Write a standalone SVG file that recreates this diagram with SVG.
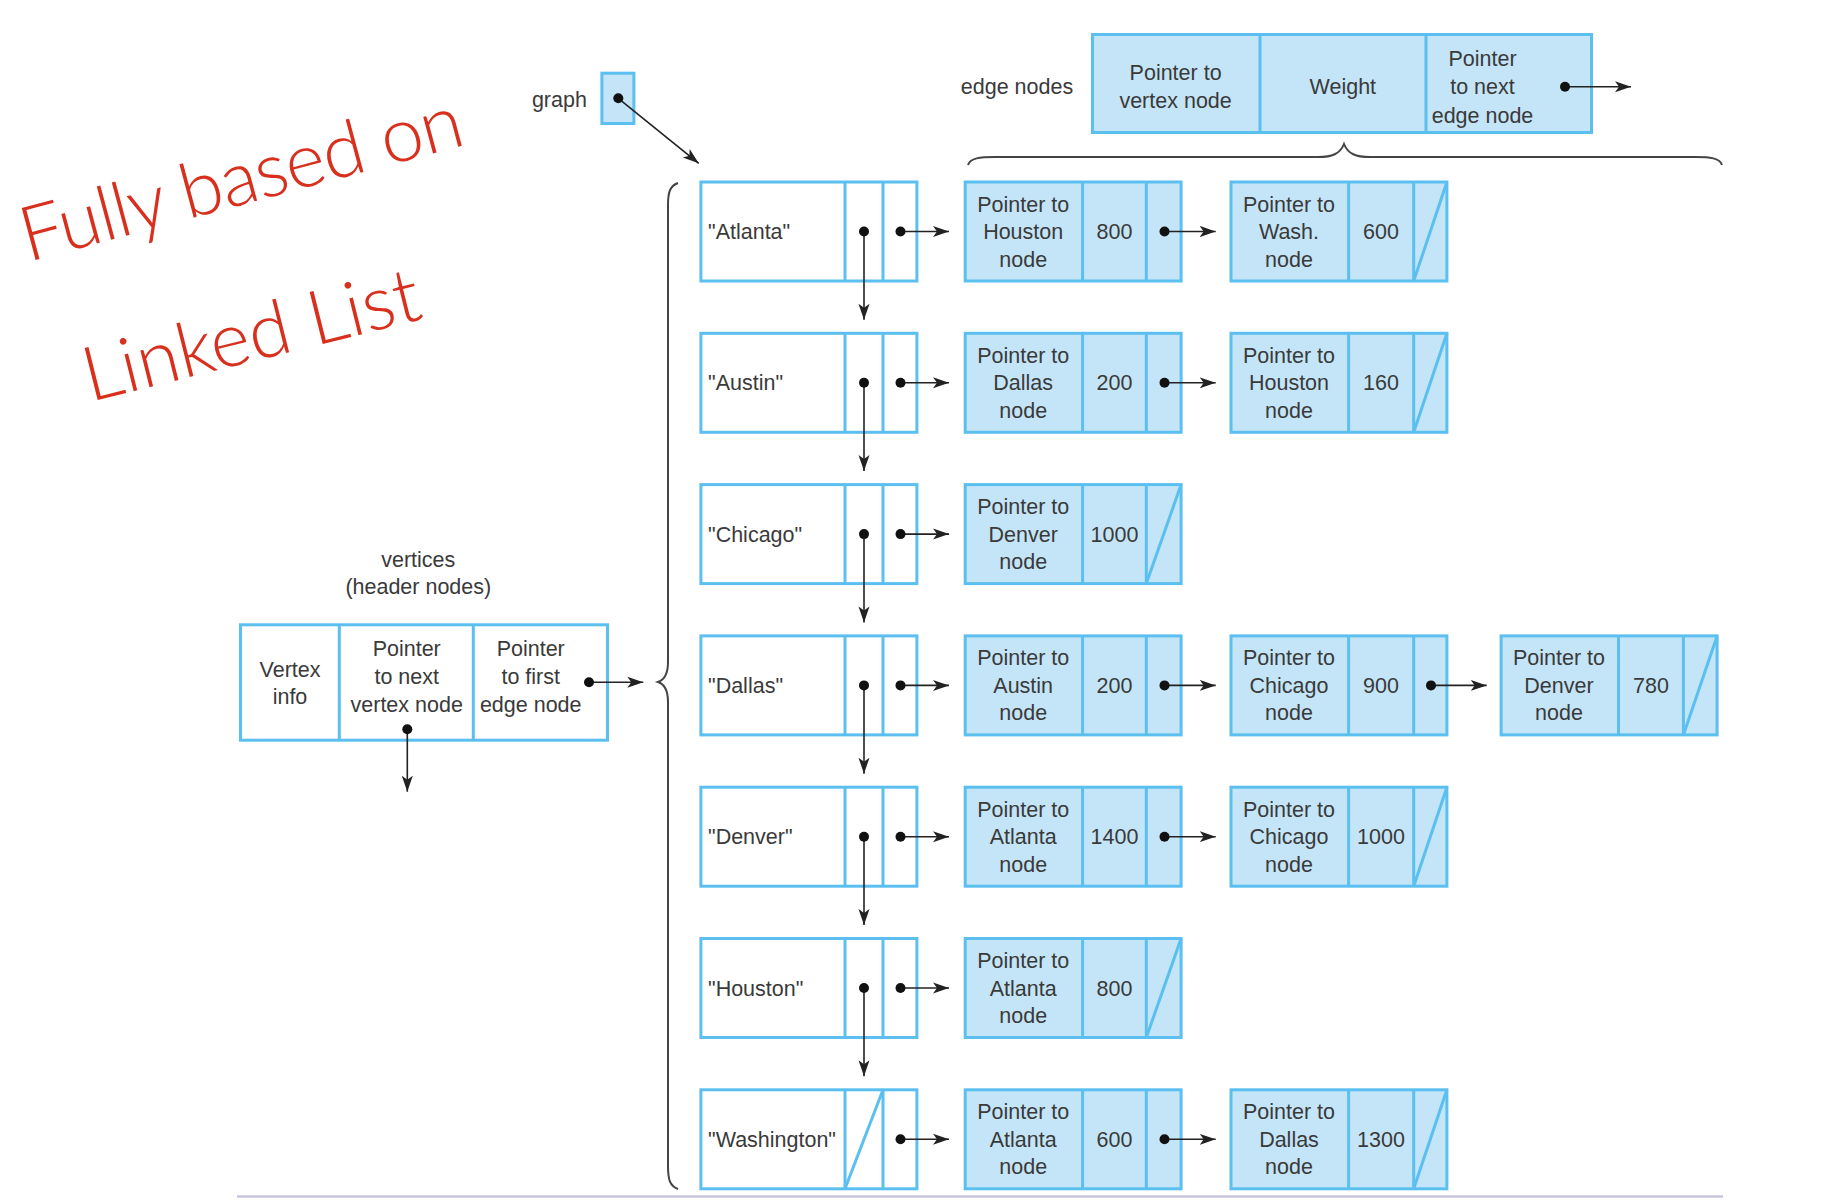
<svg xmlns="http://www.w3.org/2000/svg" width="1828" height="1200" viewBox="0 0 1828 1200">
<style>
.vb{fill:#fff;stroke:#5BBFEF;stroke-width:3}
.eb{fill:#C4E5F8;stroke:#5BBFEF;stroke-width:3}
.dv{stroke:#5BBFEF;stroke-width:3}
.t{font-family:'Liberation Sans',Arial,sans-serif;font-size:21.5px;fill:#3a3a3a}
.m{text-anchor:middle}
.ln{stroke:#222;stroke-width:1.6;fill:none}
.ar{stroke:#222;stroke-width:1.6;fill:none;marker-end:url(#ah)}
.dot{fill:#111}
.br{stroke:#444;stroke-width:2;fill:none}
.hw{font-family:Lato,Inter,'Liberation Sans',sans-serif;font-weight:300;font-size:76px;fill:#D9301E}
</style>
<defs>
<marker id="ah" markerUnits="userSpaceOnUse" markerWidth="18" markerHeight="14" refX="16" refY="7" orient="auto"><path d="M0,1.5 L16,7 L0,12.5 L4,7 z" fill="#222"/></marker>
</defs>
<rect width="1828" height="1200" fill="#fff"/>

<!-- handwriting -->
<g id="handwriting">
<text class="hw" transform="translate(28,262) rotate(-15)" textLength="455" lengthAdjust="spacing">Fully based on</text>
<text class="hw" transform="translate(90,402) rotate(-14)" textLength="345" lengthAdjust="spacing">Linked List</text>
</g>

<!-- labels -->
<g id="labels">
<text class="t m" x="559.4" y="106.5">graph</text>
<text class="t m" x="1017" y="94">edge nodes</text>
<text class="t m" x="418.3" y="567">vertices</text>
<text class="t m" x="418.3" y="594">(header nodes)</text>
</g>

<!-- graph pointer box -->
<g id="graph">
<rect class="eb" x="601.9" y="73.2" width="32" height="50.3"/>
</g>

<!-- edge node legend -->
<g id="edge-legend">
<rect class="eb" x="1092.5" y="34.5" width="499" height="98"/>
<line class="dv" x1="1260" y1="34.5" x2="1260" y2="132.5"/>
<line class="dv" x1="1426" y1="34.5" x2="1426" y2="132.5"/>
<text class="t m" x="1175.6" y="80.2">Pointer to</text>
<text class="t m" x="1175.6" y="107.5">vertex node</text>
<text class="t m" x="1342.8" y="94">Weight</text>
<text class="t m" x="1482.5" y="65.8">Pointer</text>
<text class="t m" x="1482.5" y="94">to next</text>
<text class="t m" x="1482.5" y="122.5">edge node</text>
</g>

<!-- vertex legend -->
<g id="vertex-legend">
<rect class="vb" x="240.5" y="624.8" width="367" height="115.4"/>
<line class="dv" x1="339.3" y1="624.8" x2="339.3" y2="740.2"/>
<line class="dv" x1="473.3" y1="624.8" x2="473.3" y2="740.2"/>
<text class="t m" x="290" y="676.5">Vertex</text>
<text class="t m" x="290" y="704">info</text>
<text class="t m" x="406.7" y="655.8">Pointer</text>
<text class="t m" x="406.7" y="683.5">to next</text>
<text class="t m" x="406.7" y="711.5">vertex node</text>
<text class="t m" x="530.7" y="655.8">Pointer</text>
<text class="t m" x="530.7" y="683.5">to first</text>
<text class="t m" x="530.7" y="711.5">edge node</text>
</g>

<!-- braces -->
<g id="braces">
<path class="br" d="M678 183 C670 186,668 192,668 205 L668 662 C668 675,664 680,658 682 C664 684,668 690,668 702 L668 1166 C668 1180,670 1186,678 1189"/>
<path class="br" d="M968 165 C970 158,980 157,995 157 L1318 157 C1332 157,1340 154,1344 144 C1348 154,1356 157,1370 157 L1695 157 C1710 157,1720 158,1722 165"/>
</g>

<!-- vertex nodes -->
<g id="v-atlanta" transform="translate(0,180.5)">
<rect class="vb" x="700.9" y="1.5" width="216" height="99"/>
<line class="dv" x1="845" y1="1.5" x2="845" y2="100.5"/><line class="dv" x1="883" y1="1.5" x2="883" y2="100.5"/>
<text class="t" x="708" y="58.5">"Atlanta"</text>
</g>
<g id="v-austin" transform="translate(0,331.8)">
<rect class="vb" x="700.9" y="1.5" width="216" height="99"/>
<line class="dv" x1="845" y1="1.5" x2="845" y2="100.5"/><line class="dv" x1="883" y1="1.5" x2="883" y2="100.5"/>
<text class="t" x="708" y="58.5">"Austin"</text>
</g>
<g id="v-chicago" transform="translate(0,483.1)">
<rect class="vb" x="700.9" y="1.5" width="216" height="99"/>
<line class="dv" x1="845" y1="1.5" x2="845" y2="100.5"/><line class="dv" x1="883" y1="1.5" x2="883" y2="100.5"/>
<text class="t" x="708" y="58.5">"Chicago"</text>
</g>
<g id="v-dallas" transform="translate(0,634.4)">
<rect class="vb" x="700.9" y="1.5" width="216" height="99"/>
<line class="dv" x1="845" y1="1.5" x2="845" y2="100.5"/><line class="dv" x1="883" y1="1.5" x2="883" y2="100.5"/>
<text class="t" x="708" y="58.5">"Dallas"</text>
</g>
<g id="v-denver" transform="translate(0,785.7)">
<rect class="vb" x="700.9" y="1.5" width="216" height="99"/>
<line class="dv" x1="845" y1="1.5" x2="845" y2="100.5"/><line class="dv" x1="883" y1="1.5" x2="883" y2="100.5"/>
<text class="t" x="708" y="58.5">"Denver"</text>
</g>
<g id="v-houston" transform="translate(0,937)">
<rect class="vb" x="700.9" y="1.5" width="216" height="99"/>
<line class="dv" x1="845" y1="1.5" x2="845" y2="100.5"/><line class="dv" x1="883" y1="1.5" x2="883" y2="100.5"/>
<text class="t" x="708" y="58.5">"Houston"</text>
</g>
<g id="v-washington" transform="translate(0,1088.3)">
<rect class="vb" x="700.9" y="1.5" width="216" height="99"/>
<line class="dv" x1="845" y1="1.5" x2="845" y2="100.5"/><line class="dv" x1="883" y1="1.5" x2="883" y2="100.5"/>
<line class="dv" x1="845" y1="100.5" x2="883" y2="1.5"/>
<text class="t" x="708" y="58.5">"Washington"</text>
</g>

<!-- edge nodes: Atlanta -->
<g id="e-atlanta-houston" transform="translate(0,180.5)">
<rect class="eb" x="965.2" y="1.5" width="215.9" height="99"/>
<line class="dv" x1="1082.6" y1="1.5" x2="1082.6" y2="100.5"/><line class="dv" x1="1146.3" y1="1.5" x2="1146.3" y2="100.5"/>
<text class="t m" x="1023.2" y="31">Pointer to</text><text class="t m" x="1023.2" y="58.5">Houston</text><text class="t m" x="1023.2" y="86">node</text>
<text class="t m" x="1114.5" y="58.5">800</text>
</g>
<g id="e-atlanta-wash" transform="translate(0,180.5)">
<rect class="eb" x="1231" y="1.5" width="215.9" height="99"/>
<line class="dv" x1="1348.6" y1="1.5" x2="1348.6" y2="100.5"/><line class="dv" x1="1413.7" y1="1.5" x2="1413.7" y2="100.5"/>
<line class="dv" x1="1413.7" y1="100.5" x2="1446.9" y2="1.5"/>
<text class="t m" x="1289" y="31">Pointer to</text><text class="t m" x="1289" y="58.5">Wash.</text><text class="t m" x="1289" y="86">node</text>
<text class="t m" x="1381" y="58.5">600</text>
</g>

<!-- Austin -->
<g id="e-austin-dallas" transform="translate(0,331.8)">
<rect class="eb" x="965.2" y="1.5" width="215.9" height="99"/>
<line class="dv" x1="1082.6" y1="1.5" x2="1082.6" y2="100.5"/><line class="dv" x1="1146.3" y1="1.5" x2="1146.3" y2="100.5"/>
<text class="t m" x="1023.2" y="31">Pointer to</text><text class="t m" x="1023.2" y="58.5">Dallas</text><text class="t m" x="1023.2" y="86">node</text>
<text class="t m" x="1114.5" y="58.5">200</text>
</g>
<g id="e-austin-houston" transform="translate(0,331.8)">
<rect class="eb" x="1231" y="1.5" width="215.9" height="99"/>
<line class="dv" x1="1348.6" y1="1.5" x2="1348.6" y2="100.5"/><line class="dv" x1="1413.7" y1="1.5" x2="1413.7" y2="100.5"/>
<line class="dv" x1="1413.7" y1="100.5" x2="1446.9" y2="1.5"/>
<text class="t m" x="1289" y="31">Pointer to</text><text class="t m" x="1289" y="58.5">Houston</text><text class="t m" x="1289" y="86">node</text>
<text class="t m" x="1381" y="58.5">160</text>
</g>

<!-- Chicago -->
<g id="e-chicago-denver" transform="translate(0,483.1)">
<rect class="eb" x="965.2" y="1.5" width="215.9" height="99"/>
<line class="dv" x1="1082.6" y1="1.5" x2="1082.6" y2="100.5"/><line class="dv" x1="1146.3" y1="1.5" x2="1146.3" y2="100.5"/>
<line class="dv" x1="1146.3" y1="100.5" x2="1181.1" y2="1.5"/>
<text class="t m" x="1023.2" y="31">Pointer to</text><text class="t m" x="1023.2" y="58.5">Denver</text><text class="t m" x="1023.2" y="86">node</text>
<text class="t m" x="1114.5" y="58.5">1000</text>
</g>

<!-- Dallas -->
<g id="e-dallas-austin" transform="translate(0,634.4)">
<rect class="eb" x="965.2" y="1.5" width="215.9" height="99"/>
<line class="dv" x1="1082.6" y1="1.5" x2="1082.6" y2="100.5"/><line class="dv" x1="1146.3" y1="1.5" x2="1146.3" y2="100.5"/>
<text class="t m" x="1023.2" y="31">Pointer to</text><text class="t m" x="1023.2" y="58.5">Austin</text><text class="t m" x="1023.2" y="86">node</text>
<text class="t m" x="1114.5" y="58.5">200</text>
</g>
<g id="e-dallas-chicago" transform="translate(0,634.4)">
<rect class="eb" x="1231" y="1.5" width="215.9" height="99"/>
<line class="dv" x1="1348.6" y1="1.5" x2="1348.6" y2="100.5"/><line class="dv" x1="1413.7" y1="1.5" x2="1413.7" y2="100.5"/>
<text class="t m" x="1289" y="31">Pointer to</text><text class="t m" x="1289" y="58.5">Chicago</text><text class="t m" x="1289" y="86">node</text>
<text class="t m" x="1381" y="58.5">900</text>
</g>
<g id="e-dallas-denver" transform="translate(0,634.4)">
<rect class="eb" x="1501.1" y="1.5" width="216" height="99"/>
<line class="dv" x1="1618.5" y1="1.5" x2="1618.5" y2="100.5"/><line class="dv" x1="1683.4" y1="1.5" x2="1683.4" y2="100.5"/>
<line class="dv" x1="1683.4" y1="100.5" x2="1717.1" y2="1.5"/>
<text class="t m" x="1559" y="31">Pointer to</text><text class="t m" x="1559" y="58.5">Denver</text><text class="t m" x="1559" y="86">node</text>
<text class="t m" x="1651" y="58.5">780</text>
</g>

<!-- Denver -->
<g id="e-denver-atlanta" transform="translate(0,785.7)">
<rect class="eb" x="965.2" y="1.5" width="215.9" height="99"/>
<line class="dv" x1="1082.6" y1="1.5" x2="1082.6" y2="100.5"/><line class="dv" x1="1146.3" y1="1.5" x2="1146.3" y2="100.5"/>
<text class="t m" x="1023.2" y="31">Pointer to</text><text class="t m" x="1023.2" y="58.5">Atlanta</text><text class="t m" x="1023.2" y="86">node</text>
<text class="t m" x="1114.5" y="58.5">1400</text>
</g>
<g id="e-denver-chicago" transform="translate(0,785.7)">
<rect class="eb" x="1231" y="1.5" width="215.9" height="99"/>
<line class="dv" x1="1348.6" y1="1.5" x2="1348.6" y2="100.5"/><line class="dv" x1="1413.7" y1="1.5" x2="1413.7" y2="100.5"/>
<line class="dv" x1="1413.7" y1="100.5" x2="1446.9" y2="1.5"/>
<text class="t m" x="1289" y="31">Pointer to</text><text class="t m" x="1289" y="58.5">Chicago</text><text class="t m" x="1289" y="86">node</text>
<text class="t m" x="1381" y="58.5">1000</text>
</g>

<!-- Houston -->
<g id="e-houston-atlanta" transform="translate(0,937)">
<rect class="eb" x="965.2" y="1.5" width="215.9" height="99"/>
<line class="dv" x1="1082.6" y1="1.5" x2="1082.6" y2="100.5"/><line class="dv" x1="1146.3" y1="1.5" x2="1146.3" y2="100.5"/>
<line class="dv" x1="1146.3" y1="100.5" x2="1181.1" y2="1.5"/>
<text class="t m" x="1023.2" y="31">Pointer to</text><text class="t m" x="1023.2" y="58.5">Atlanta</text><text class="t m" x="1023.2" y="86">node</text>
<text class="t m" x="1114.5" y="58.5">800</text>
</g>

<!-- Washington -->
<g id="e-washington-atlanta" transform="translate(0,1088.3)">
<rect class="eb" x="965.2" y="1.5" width="215.9" height="99"/>
<line class="dv" x1="1082.6" y1="1.5" x2="1082.6" y2="100.5"/><line class="dv" x1="1146.3" y1="1.5" x2="1146.3" y2="100.5"/>
<text class="t m" x="1023.2" y="31">Pointer to</text><text class="t m" x="1023.2" y="58.5">Atlanta</text><text class="t m" x="1023.2" y="86">node</text>
<text class="t m" x="1114.5" y="58.5">600</text>
</g>
<g id="e-washington-dallas" transform="translate(0,1088.3)">
<rect class="eb" x="1231" y="1.5" width="215.9" height="99"/>
<line class="dv" x1="1348.6" y1="1.5" x2="1348.6" y2="100.5"/><line class="dv" x1="1413.7" y1="1.5" x2="1413.7" y2="100.5"/>
<line class="dv" x1="1413.7" y1="100.5" x2="1446.9" y2="1.5"/>
<text class="t m" x="1289" y="31">Pointer to</text><text class="t m" x="1289" y="58.5">Dallas</text><text class="t m" x="1289" y="86">node</text>
<text class="t m" x="1381" y="58.5">1300</text>
</g>

<!-- connectors -->
<g id="connectors">
<line class="ar" x1="618.3" y1="98.3" x2="698.7" y2="163.3"/><circle class="dot" cx="618.3" cy="98.3" r="5"/>
<line class="ar" x1="1565" y1="86.7" x2="1631" y2="86.7"/><circle class="dot" cx="1565" cy="86.7" r="5"/>
<line class="ar" x1="589" y1="682.3" x2="643.3" y2="682.3"/><circle class="dot" cx="589" cy="682.3" r="5"/>
<line class="ar" x1="407.3" y1="729.3" x2="407.3" y2="791.7"/><circle class="dot" cx="407.3" cy="729.3" r="5"/>

<line class="ar" x1="864" y1="231.5" x2="864" y2="319.8"/><circle class="dot" cx="864" cy="231.5" r="5"/>
<line class="ar" x1="864" y1="382.8" x2="864" y2="471.1"/><circle class="dot" cx="864" cy="382.8" r="5"/>
<line class="ar" x1="864" y1="534.1" x2="864" y2="622.4"/><circle class="dot" cx="864" cy="534.1" r="5"/>
<line class="ar" x1="864" y1="685.4" x2="864" y2="773.7"/><circle class="dot" cx="864" cy="685.4" r="5"/>
<line class="ar" x1="864" y1="836.7" x2="864" y2="925"/><circle class="dot" cx="864" cy="836.7" r="5"/>
<line class="ar" x1="864" y1="988" x2="864" y2="1076.3"/><circle class="dot" cx="864" cy="988" r="5"/>

<line class="ar" x1="900.5" y1="231.5" x2="949" y2="231.5"/><circle class="dot" cx="900.5" cy="231.5" r="5"/>
<line class="ar" x1="900.5" y1="382.8" x2="949" y2="382.8"/><circle class="dot" cx="900.5" cy="382.8" r="5"/>
<line class="ar" x1="900.5" y1="534.1" x2="949" y2="534.1"/><circle class="dot" cx="900.5" cy="534.1" r="5"/>
<line class="ar" x1="900.5" y1="685.4" x2="949" y2="685.4"/><circle class="dot" cx="900.5" cy="685.4" r="5"/>
<line class="ar" x1="900.5" y1="836.7" x2="949" y2="836.7"/><circle class="dot" cx="900.5" cy="836.7" r="5"/>
<line class="ar" x1="900.5" y1="988" x2="949" y2="988"/><circle class="dot" cx="900.5" cy="988" r="5"/>
<line class="ar" x1="900.5" y1="1139.3" x2="949" y2="1139.3"/><circle class="dot" cx="900.5" cy="1139.3" r="5"/>

<line class="ar" x1="1164.5" y1="231.5" x2="1215.7" y2="231.5"/><circle class="dot" cx="1164.5" cy="231.5" r="5"/>
<line class="ar" x1="1164.5" y1="382.8" x2="1215.7" y2="382.8"/><circle class="dot" cx="1164.5" cy="382.8" r="5"/>
<line class="ar" x1="1164.5" y1="685.4" x2="1215.7" y2="685.4"/><circle class="dot" cx="1164.5" cy="685.4" r="5"/>
<line class="ar" x1="1164.5" y1="836.7" x2="1215.7" y2="836.7"/><circle class="dot" cx="1164.5" cy="836.7" r="5"/>
<line class="ar" x1="1164.5" y1="1139.3" x2="1215.7" y2="1139.3"/><circle class="dot" cx="1164.5" cy="1139.3" r="5"/>

<line class="ar" x1="1431" y1="685.4" x2="1486.7" y2="685.4"/><circle class="dot" cx="1431" cy="685.4" r="5"/>
</g>

<line x1="237" y1="1196.5" x2="1723" y2="1196.5" stroke="#C9C5DC" stroke-width="2.5"/>
</svg>
